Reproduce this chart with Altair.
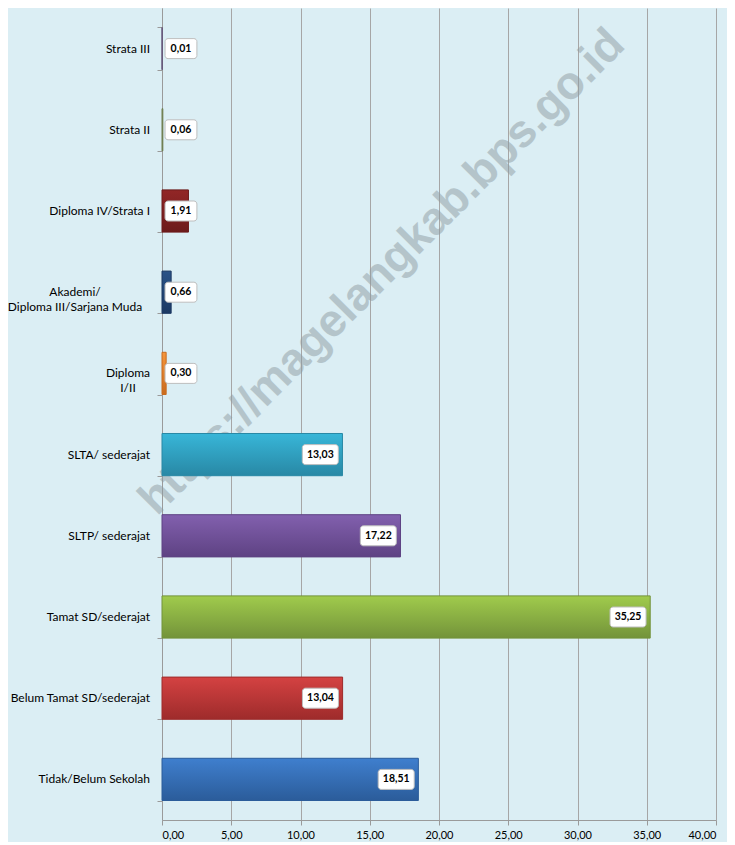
import altair as alt
import pandas as pd

categories = [
    "Strata III",
    "Strata II",
    "Diploma IV/Strata I",
    "Akademi/\nDiploma III/Sarjana Muda",
    "Diploma\nI/II",
    "SLTA/ sederajat",
    "SLTP/ sederajat",
    "Tamat SD/sederajat",
    "Belum Tamat SD/sederajat",
    "Tidak/Belum Sekolah",
]
values = [0.01, 0.06, 1.91, 0.66, 0.30, 13.03, 17.22, 35.25, 13.04, 18.51]
top_colors = ["#75658E", "#8A9A66", "#922626", "#2A5388", "#F5963C",
              "#38B6D8", "#8260AE", "#A0CB4C", "#D44242", "#3F7FCE"]
bottom_colors = ["#5E4F75", "#6F7E50", "#6C1B1B", "#1C3963", "#C96B1E",
                 "#2888A5", "#5E4283", "#73933A", "#9E2B2B", "#2B5C9A"]
x_ticks = [0, 5, 10, 15, 20, 25, 30, 35, 40]
watermark = "https://magelangkab.bps.go.id"

FONT = "Lato"
df = pd.DataFrame({"idx": list(range(len(categories))), "cat": categories, "val": values})

fmt = "replace(format(datum.value, '.2f'), '.', ',')"

y_enc = alt.Y(
    "cat:N",
    sort=categories,
    scale=alt.Scale(paddingInner=0.48, paddingOuter=0.24),
    axis=alt.Axis(labels=False, title=None, tickBand="extent", grid=False,
                  domainColor="#9A9A9A", tickColor="#9A9A9A", tickSize=5),
)
x_axis = alt.Axis(values=x_ticks, labelExpr=fmt, title=None, grid=True,
                  gridColor="#A6A6A6", domainColor="#9A9A9A", tickColor="#9A9A9A",
                  tickSize=5, labelFont=FONT, labelFontSize=11, labelColor="#000000",
                  labelPadding=4)
x_scale = alt.Scale(domain=[0, 40], nice=False)

base = alt.Chart(df)

wm = alt.Chart(pd.DataFrame({"t": [watermark]})).mark_text(
    angle=315, fontSize=46, fontWeight="bold", font="Liberation Sans",
    color="#8E9CA2", opacity=0.5
).encode(x=alt.value(220), y=alt.value(264), text="t:N")

layers = [wm]
for i in range(len(categories)):
    grad = alt.Gradient(
        gradient="linear",
        stops=[alt.GradientStop(color=top_colors[i], offset=0),
               alt.GradientStop(color=bottom_colors[i], offset=1)],
        x1=0, x2=0, y1=0, y2=1,
    )
    layers.append(
        base.transform_filter(alt.datum.idx == i)
        .mark_bar(color=grad, stroke=bottom_colors[i], strokeWidth=1)
        .encode(x=alt.X("val:Q", scale=x_scale, axis=x_axis), y=y_enc)
    )

lab = base.transform_calculate(
    w="datum.val >= 10 ? 2.6 : 2.3",
).transform_calculate(
    r="max(datum.val - 0.3, 0.22 + datum.w)",
).transform_calculate(
    l="datum.r - datum.w",
    lbl="replace(format(datum.val, '.2f'), '.', ',')",
).transform_calculate(
    m="(datum.l + datum.r) / 2",
)

boxes = lab.mark_bar(size=20, cornerRadius=3, fill="white", stroke="#BEBEBE",
                     strokeWidth=1).encode(x=alt.X("l:Q", scale=x_scale, axis=x_axis),
                                           x2="r:Q", y=y_enc)
texts = lab.mark_text(font=FONT, fontWeight="bold", fontSize=10.5, color="#000000").encode(
    x=alt.X("m:Q", scale=x_scale, axis=x_axis), y=y_enc, text="lbl:N")

single = base.transform_filter("indexof(datum.cat, '\\n') < 0").mark_text(
    align="right", baseline="middle", font=FONT, fontSize=12, color="#000000"
).encode(x=alt.value(-12), y=y_enc, text="cat:N")

multi1 = base.transform_filter(alt.datum.idx == 3).mark_text(
    align="center", baseline="middle", font=FONT, fontSize=12, color="#000000",
    lineBreak="\n", lineHeight=15
).encode(x=alt.value(-87), y=y_enc, text="cat:N")

multi2 = base.transform_filter(alt.datum.idx == 4).mark_text(
    align="center", baseline="middle", font=FONT, fontSize=12, color="#000000",
    lineBreak="\n", lineHeight=15
).encode(x=alt.value(-34), y=y_enc, text="cat:N")

chart = alt.layer(*layers, boxes, texts, single, multi1, multi2).properties(
    width=554,
    height=812,
    background="#DBEEF4",
    padding={"left": 154, "top": 0, "right": 11, "bottom": 22},
    autosize=alt.AutoSizeParams(type="none"),
).configure_view(stroke=None)

chart.save("out.html", embed_options={"renderer": "svg", "actions": False})
